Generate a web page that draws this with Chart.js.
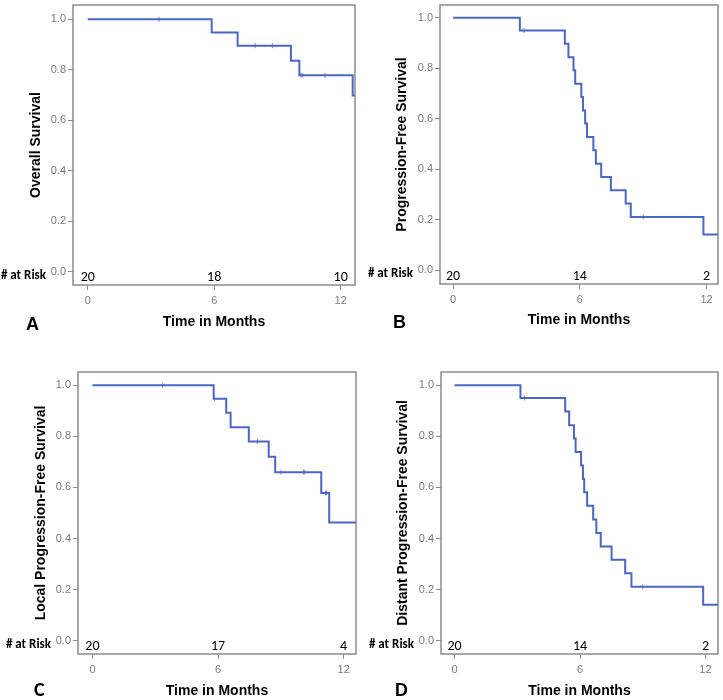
<!DOCTYPE html>
<html>
<head>
<meta charset="utf-8">
<script src="https://cdn.jsdelivr.net/npm/chart.js@4.4.1/dist/chart.umd.min.js"></script>
<style>
  html, body { margin: 0; padding: 0; background: #fff; }
  #wrap { position: relative; width: 723px; height: 700px; }
  #wrap canvas { position: absolute; }
</style>
</head>
<body>
<div id="wrap">
  <canvas id="chartA" width="361" height="350" style="left:0;top:0"></canvas>
  <canvas id="chartB" width="361" height="350" style="left:362px;top:0"></canvas>
  <canvas id="chartC" width="361" height="350" style="left:0;top:350px"></canvas>
  <canvas id="chartD" width="361" height="350" style="left:362px;top:350px"></canvas>
</div>
<script>
// shared axes
const xTicks = [0, 6, 12];
const yTicks = [0, 0.2, 0.4, 0.6, 0.8, 1.0];
const riskTimes = [0, 6, 12];

// A - overall survival
const osTimes = [0, 5.88, 7.11, 9.64, 10.04, 12.57];
const osSurv = [1, 0.947, 0.895, 0.835, 0.778, 0.698];
const osCensorTimes = [3.38, 7.94, 8.76, 10.12, 10.2, 11.26];
const osCensorSurv = [1, 0.895, 0.895, 0.778, 0.778, 0.778];
const osAtRisk = [20, 18, 10];

// B - progression-free survival
const pfsTimes = [0, 3.16, 5.29, 5.46, 5.70, 5.78, 6.07, 6.15, 6.25, 6.34, 6.64, 6.76, 7.01, 7.47, 8.17, 8.41, 11.85];
const pfsSurv = [1, 0.95, 0.897, 0.844, 0.792, 0.739, 0.686, 0.633, 0.581, 0.528, 0.475, 0.422, 0.369, 0.317, 0.264, 0.211, 0.141];
const pfsCensorTimes = [3.36, 9.0];
const pfsCensorSurv = [0.95, 0.211];
const pfsAtRisk = [20, 14, 2];

// C - local progression-free survival
const lpfsTimes = [0, 5.79, 6.39, 6.60, 7.47, 8.42, 8.73, 10.93, 11.31];
const lpfsSurv = [1, 0.947, 0.892, 0.836, 0.780, 0.720, 0.660, 0.578, 0.463];
const lpfsCensorTimes = [3.35, 5.83, 7.88, 9.01, 10.08, 10.14, 11.13, 11.18];
const lpfsCensorSurv = [1, 0.947, 0.780, 0.660, 0.660, 0.660, 0.578, 0.578];
const lpfsAtRisk = [20, 17, 4];

// D - distant progression-free survival
const dpfsTimes = [0, 3.15, 5.29, 5.48, 5.71, 5.79, 6.05, 6.14, 6.20, 6.34, 6.63, 6.78, 6.99, 7.51, 8.16, 8.46, 11.89];
const dpfsSurv = [1, 0.95, 0.897, 0.844, 0.792, 0.739, 0.686, 0.633, 0.581, 0.528, 0.475, 0.422, 0.369, 0.317, 0.264, 0.211, 0.141];
const dpfsCensorTimes = [3.34, 9.0];
const dpfsCensorSurv = [0.95, 0.211];
const dpfsAtRisk = [20, 14, 2];

const lineBlue = '#4a67c7';
const censorBlue = '#7088d2';
const boxGrey = '#8c8c8c';
const arial = '"Liberation Sans", Arial, sans-serif';
const calibri = 'Carlito, Lato, "Open Sans", sans-serif';

const panelPlugin = {
  id: 'panelExtras',
  beforeDatasetsDraw(chart) {
    const { ctx, chartArea: a } = chart;
    ctx.save();
    ctx.strokeStyle = boxGrey;
    ctx.lineWidth = 1.5;
    ctx.strokeRect(a.left, a.top, a.right - a.left, a.bottom - a.top);
    ctx.restore();
  },
  afterDraw(chart) {
    const { ctx, chartArea: a } = chart;
    const p = chart.options.plugins.panelExtras;
    const xs = chart.scales.x, ys = chart.scales.y;
    const y0 = ys.getPixelForValue(0);
    ctx.save();
    ctx.fillStyle = '#000';
    ctx.textBaseline = 'middle';
    ctx.textAlign = 'center';
    ctx.font = '14px ' + calibri;
    riskTimes.forEach((t, i) => {
      ctx.fillText(String(p.atRisk[i]), xs.getPixelForValue(t), y0 + 6);
    });
    ctx.textAlign = 'right';
    ctx.font = 'bold 13px ' + calibri;
    ctx.fillText('# at Risk', a.left - 27, y0 + 4);
    ctx.textAlign = 'left';
    ctx.font = p.letterFont;
    ctx.fillText(p.letter, p.letterX, p.letterY);
    ctx.restore();
  }
};

function makePanel(id, s, g) {
  const W = 361, H = 350;
  const curve = s.times.map((t, i) => ({ x: t, y: s.surv[i] }));
  curve.push({ x: g.xMax, y: s.surv[s.surv.length - 1] });
  const censors = s.cTimes.map((t, i) => ({ x: t, y: s.cSurv[i] }));

  new Chart(document.getElementById(id).getContext('2d'), {
    type: 'line',
    data: {
      datasets: [
        { data: curve, stepped: 'before', borderColor: lineBlue, borderWidth: 2,
          pointRadius: 0, fill: false },
        { data: censors, showLine: false, pointStyle: 'line', rotation: 90,
          pointRadius: 2.5, borderColor: censorBlue, borderWidth: 1 }
      ]
    },
    options: {
      responsive: false,
      animation: false,
      devicePixelRatio: 1,
      layout: { padding: { left: 0, top: g.top, right: W - g.right, bottom: 0 } },
      plugins: {
        legend: { display: false },
        tooltip: { enabled: false },
        panelExtras: { atRisk: s.atRisk, letter: g.letter, letterFont: g.letterFont,
                       letterX: g.letterX, letterY: g.letterY }
      },
      scales: {
        x: {
          type: 'linear', min: g.xMin, max: g.xMax,
          afterBuildTicks: ax => { ax.ticks = xTicks.map(v => ({ value: v })); },
          afterFit: ax => { ax.height = H - g.bottom; ax.paddingLeft = 0; ax.paddingRight = 0; },
          ticks: { color: '#7a7a7a', font: { family: arial, size: 11 }, padding: 4, maxRotation: 0 },
          grid: { display: true, drawOnChartArea: false, tickLength: 5, color: boxGrey, lineWidth: 1 },
          border: { display: false },
          title: { display: true, text: 'Time in Months', color: '#000',
                   font: { family: arial, size: 14, weight: 'bold' },
                   padding: { top: 0, bottom: H - g.xTitleY - 8.4 } }
        },
        y: {
          type: 'linear', min: g.yMin, max: g.yMax,
          afterBuildTicks: ax => { ax.ticks = yTicks.map(v => ({ value: v })); },
          afterFit: ax => { ax.width = g.left; ax.paddingTop = 0; ax.paddingBottom = 0; },
          ticks: { color: '#7a7a7a', font: { family: arial, size: 11 }, padding: 2,
                   callback: v => Number(v).toFixed(1) },
          grid: { display: true, drawOnChartArea: false, tickLength: 5, color: boxGrey, lineWidth: 1 },
          border: { display: false },
          title: { display: true, text: s.yTitle, color: '#000',
                   font: { family: arial, size: 14, weight: 'bold' },
                   padding: { top: g.yTitleX - 8.4, bottom: 0 } }
        }
      }
    },
    plugins: [panelPlugin]
  });
}

makePanel('chartA',
  { times: osTimes, surv: osSurv, cTimes: osCensorTimes, cSurv: osCensorSurv,
    atRisk: osAtRisk, yTitle: 'Overall Survival' },
  { left: 73, top: 2, right: 355, bottom: 285, xMin: -0.70, xMax: 12.68, yMin: -0.052, yMax: 1.056,
    yTitleX: 36, xTitleY: 322, letter: 'A', letterFont: 'bold 18px ' + arial, letterX: 26, letterY: 325 });

makePanel('chartB',
  { times: pfsTimes, surv: pfsSurv, cTimes: pfsCensorTimes, cSurv: pfsCensorSurv,
    atRisk: pfsAtRisk, yTitle: 'Progression-Free Survival' },
  { left: 78, top: 2, right: 358, bottom: 284, xMin: -0.62, xMax: 12.54, yMin: -0.055, yMax: 1.051,
    yTitleX: 40, xTitleY: 320, letter: 'B', letterFont: 'bold 18px ' + arial, letterX: 31, letterY: 323 });

makePanel('chartC',
  { times: lpfsTimes, surv: lpfsSurv, cTimes: lpfsCensorTimes, cSurv: lpfsCensorSurv,
    atRisk: lpfsAtRisk, yTitle: 'Local Progression-Free Survival' },
  { left: 78, top: 22, right: 359, bottom: 304, xMin: -0.69, xMax: 12.59, yMin: -0.052, yMax: 1.052,
    yTitleX: 41, xTitleY: 341, letter: 'C', letterFont: 'bold 20px ' + calibri, letterX: 34, letterY: 341 });

makePanel('chartD',
  { times: dpfsTimes, surv: dpfsSurv, cTimes: dpfsCensorTimes, cSurv: dpfsCensorSurv,
    atRisk: dpfsAtRisk, yTitle: 'Distant Progression-Free Survival' },
  { left: 79, top: 22, right: 359, bottom: 304, xMin: -0.65, xMax: 12.6, yMin: -0.052, yMax: 1.052,
    yTitleX: 41, xTitleY: 341, letter: 'D', letterFont: 'bold 20px ' + calibri, letterX: 33, letterY: 341 });
</script>
</body>
</html>
